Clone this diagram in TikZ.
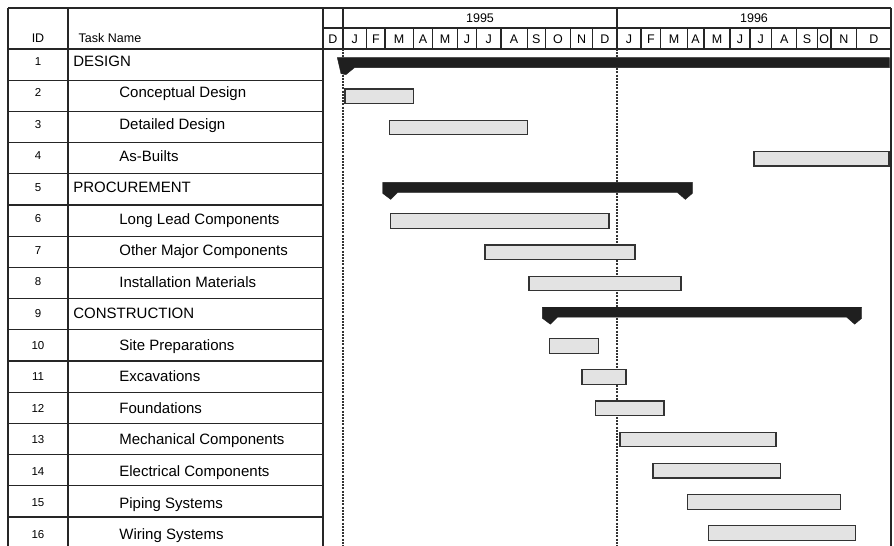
\documentclass[tikz,border=0pt]{standalone}
\usepackage{fontspec}
\setmainfont{Liberation Sans}
\begin{document}
\begin{tikzpicture}[x=1pt,y=-1pt,
  grid/.style={draw=black!85, line width=1.1pt},
  dots/.style={draw=black!80, line width=1.1pt, dash pattern=on 2pt off 1.2pt},
  taskbar/.style={draw=black!80, fill=black!11, line width=1.2pt},
  sumbar/.style={fill=black!88, draw=black!88, line width=0.4pt, line join=miter},
  hdr/.style={font=\fontsize{12.5}{14}\selectfont, inner sep=0pt},
  num/.style={font=\fontsize{11.5}{13}\selectfont, inner sep=0pt, anchor=base},
  tname/.style={font=\fontsize{15}{17}\selectfont, inner sep=0pt, anchor=base west}]
\useasboundingbox (0,0) rectangle (894,546);
\def\rh{31.2}
% ---- header / table frame
\draw[grid] (8,8) -- (891,8);
\draw[grid] (323,28) -- (891,28);
\draw[grid] (8,49) -- (891,49);
\foreach \x in {8,68,323,891} \draw[grid] (\x,8) -- (\x,546);
\draw[grid] (343,8) -- (343,49);
\draw[grid] (617,8) -- (617,49);
\foreach \x in {366.7,385,413.3,432.7,457.3,476.7,501,527.3,545.3,570.7,592.7,
                641,660.7,687.3,704,730,750,771.7,796.7,817.3,831,856.7}
  \draw[grid] (\x,28) -- (\x,49);
\foreach \k in {1,...,15} \draw[grid] (8,{49+\k*\rh}) -- (323,{49+\k*\rh});
% dotted date lines
\draw[dots] (343,49) -- (343,546);
\draw[dots] (617,49) -- (617,546);
% ---- header texts
\node[hdr] (idh) at (38,38) {ID};
\node[hdr, anchor=west] (tnh) at (78.5,38) {Task Name};
\node[hdr] (y1995) at (480,17.8) {1995};
\node[hdr] (y1996) at (754,17.8) {1996};
\foreach \a/\b/\m [count=\i] in {323/343/D,343/366.7/J,366.7/385/F,385/413.3/M,413.3/432.7/A,
   432.7/457.3/M,457.3/476.7/J,476.7/501/J,501/527.3/A,527.3/545.3/S,545.3/570.7/O,
   570.7/592.7/N,592.7/617/D,617/641/J,641/660.7/F,660.7/687.3/M,687.3/704/A,704/730/M,
   730/750/J,750/771.7/J,771.7/796.7/A,796.7/817.3/S,817.3/831/O,831/856.7/N,856.7/891/D}
  \node[hdr] (mon\i) at ({(\a+\b)/2},39) {\m};
% ---- row texts
\foreach \k/\lvl/\t in {1/74/DESIGN, 2/120/Conceptual Design, 3/120/Detailed Design,
   4/120/As-Builts, 5/74/PROCUREMENT, 6/120/Long Lead Components,
   7/120/Other Major Components, 8/120/Installation Materials, 9/74/CONSTRUCTION,
   10/120/Site Preparations, 11/120/Excavations, 12/120/Foundations,
   13/120/Mechanical Components, 14/120/Electrical Components,
   15/120/Piping Systems, 16/120/Wiring Systems}{
  \node[num] (id\k) at (38,{61+(\k-1)*31.55+4.1}) {\k};
  \node[tname] (task\k) at (\lvl-0.8,{61+(\k-1)*31.55+5.35}) {\t};
}
% ---- task bars (row, start, end)
\foreach \k/\a/\b in {2/345/413.3, 3/389.3/527.7, 4/754/889, 6/390.7/609,
   7/485/635, 8/529/681, 10/549.3/598.7, 11/582/626, 12/595.3/664,
   13/620/776, 14/653/780.7, 15/687.3/840.7, 16/708.7/855.3}
  \draw[taskbar] (\a,{49+(\k-0.5)*\rh+0.5-7.3}) rectangle (\b,{49+(\k-0.5)*\rh+0.5+7.3});
% ---- summary bars
% DESIGN (right end runs off the chart)
\pgfmathsetmacro{\c}{49+0.5*\rh}
\fill[sumbar] (337.3,\c-7) -- (889.3,\c-7) -- (889.3,\c+3) -- (354.5,\c+3)
  -- (346,\c+10) -- (341,\c+9) -- cycle;
% PROCUREMENT and CONSTRUCTION
\foreach \k/\a/\b in {5/382.7/692.3, 9/542.3/861.7}{
  \pgfmathsetmacro{\c}{49+(\k-0.5)*\rh}
  \fill[sumbar] (\a,\c-7) -- (\b,\c-7) -- (\b,\c+4) -- (\b-7,\c+10) -- (\b-15,\c+3)
    -- (\a+15,\c+3) -- (\a+8,\c+10) -- (\a,\c+4) -- cycle;
}
\end{tikzpicture}
\end{document}
